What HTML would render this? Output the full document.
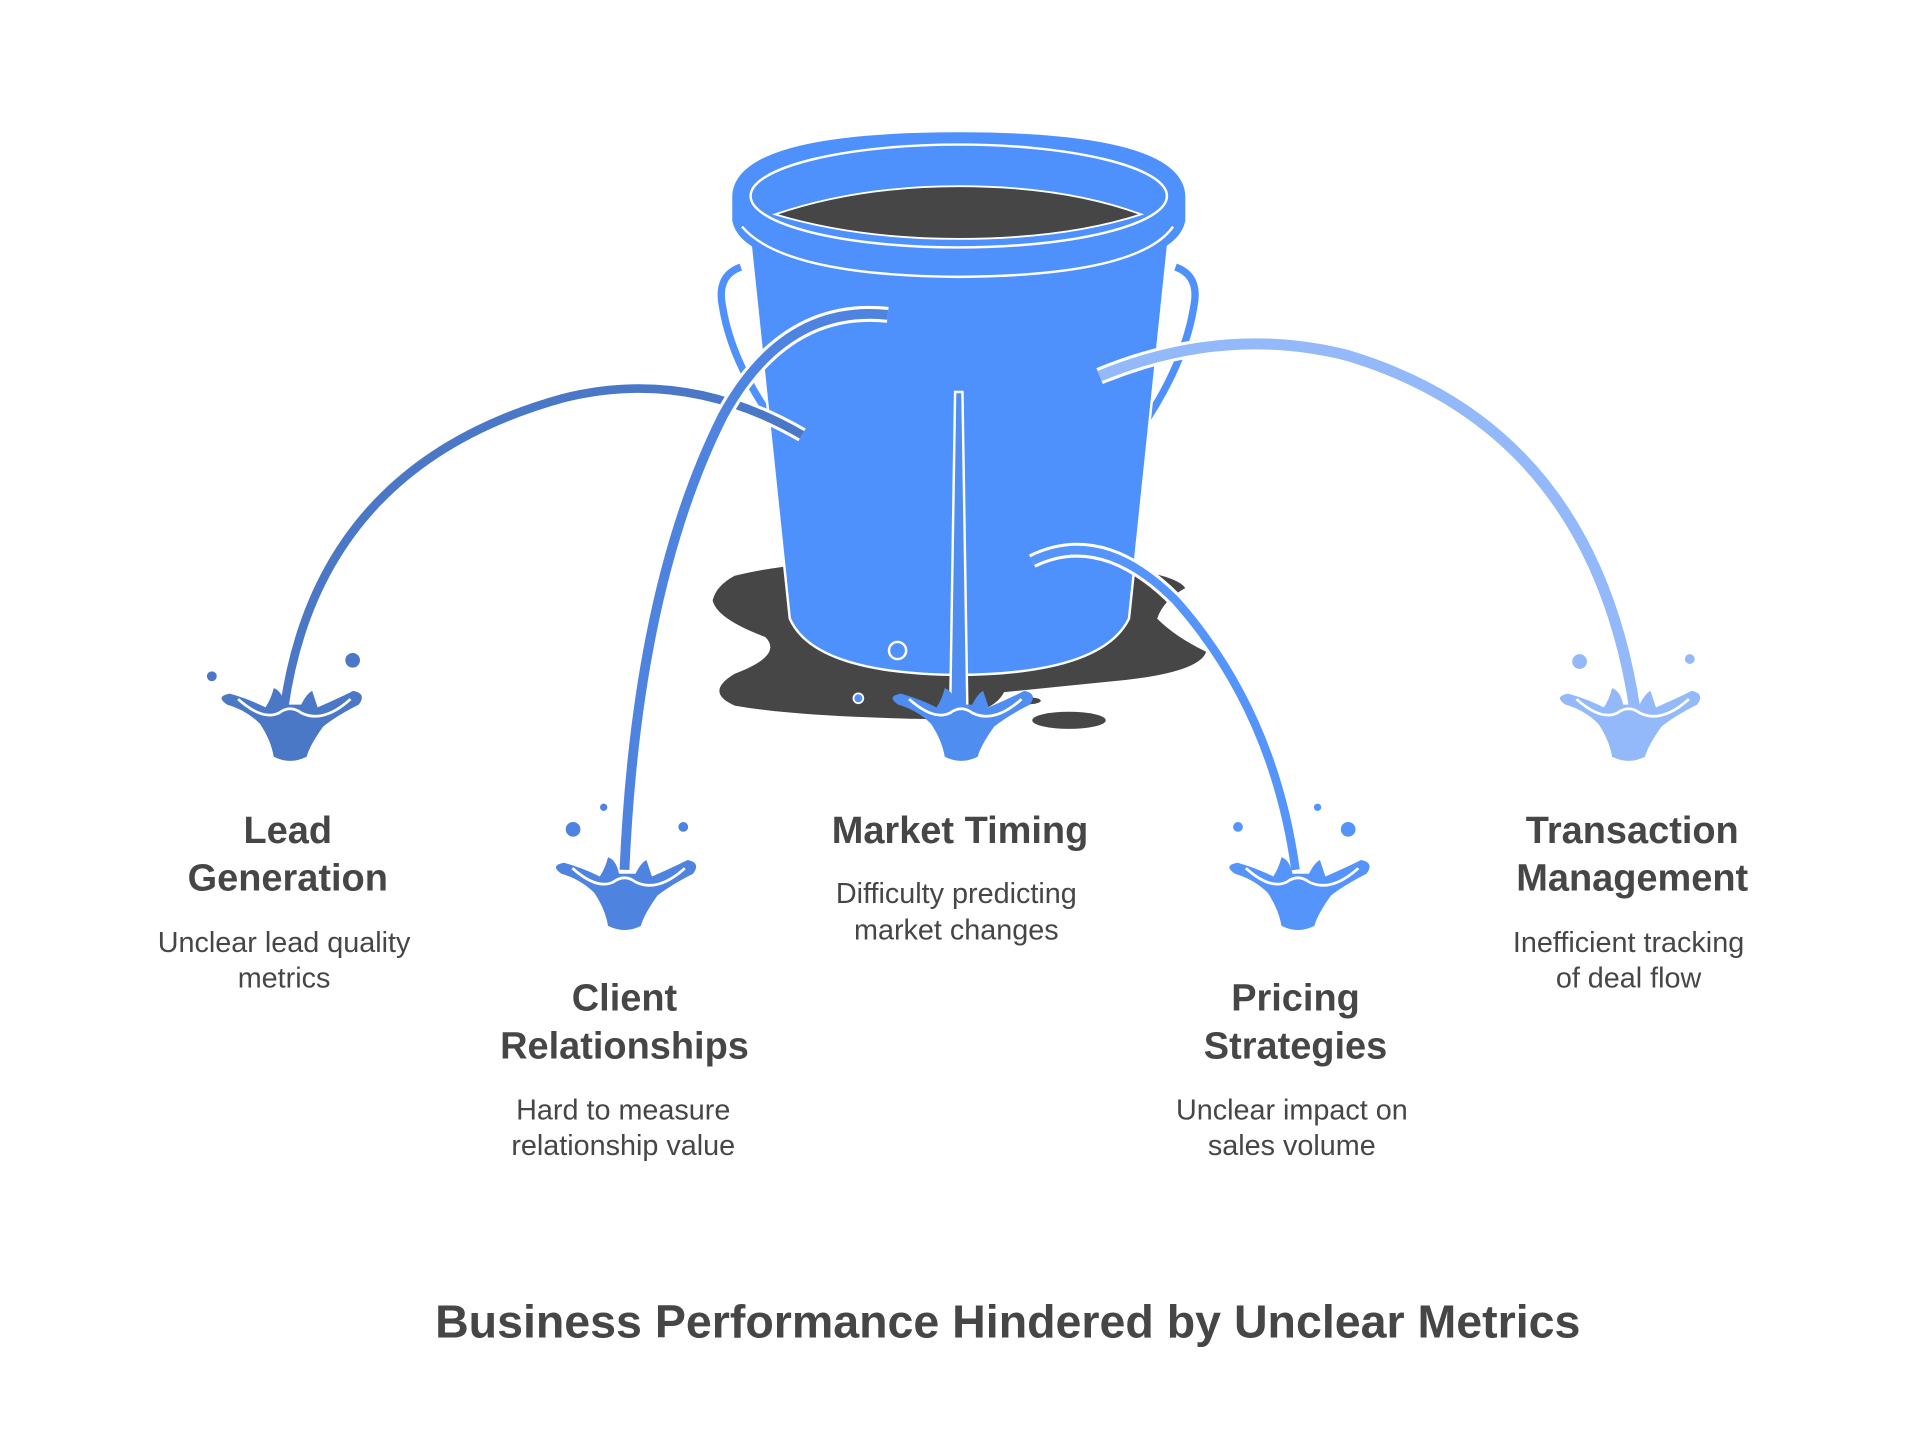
<!DOCTYPE html>
<html><head><meta charset="utf-8"><style>
html,body{margin:0;padding:0;background:#fff;}
svg{display:block;}
text{font-family:"Liberation Sans",sans-serif;fill:#464646;}
.h{font-weight:bold;font-size:31px;}
.d{font-size:23.5px;}
</style></head><body>
<svg width="1920" height="1448" viewBox="0 0 1568 1182" preserveAspectRatio="none" xmlns="http://www.w3.org/2000/svg">
<defs>
<g id="spl">
<path d="M-46,-40 Q-55,-46 -44,-48 Q-30,-44 -18,-38 Q-14,-44 -12,-52 Q-6,-50 -4,-40 L8,-40 Q12,-48 16,-50 Q18,-44 20,-38 Q34,-44 46,-50 Q56,-48 50,-40 Q34,-32 24,-24 Q14,-10 12,-2 Q0,4 -12,-2 Q-14,-14 -22,-26 Q-32,-36 -46,-40 Z"/>
<path d="M-38,-44 Q-20,-28 -8,-34 Q0,-40 8,-34 Q24,-26 44,-44" fill="none" stroke="#fff" stroke-width="2"/>
</g>
</defs>
<path d="M600,470 Q640,460 700,458 L900,462 Q960,468 968,480 Q950,490 945,505 Q960,520 985,532 Q980,548 920,555 Q870,560 820,565 Q810,585 760,587 Q650,585 600,576 Q575,565 600,550 Q640,535 625,520 Q585,505 582,490 Q585,478 600,470 Z" fill="#464646"/>
<ellipse cx="873" cy="588" rx="30" ry="7" fill="#464646"/>
<ellipse cx="838" cy="572" rx="12" ry="3" fill="#464646"/>
<path d="M605,218 Q585,225 590,250 Q598,300 640,355" fill="none" stroke="#4f91fc" stroke-width="6"/>
<path d="M960,218 Q980,225 975,250 Q967,300 928,355" fill="none" stroke="#4f91fc" stroke-width="6"/>
<path d="M612,190 L955,190 L922,505 Q900,550 783,551 Q665,550 645,505 Z" fill="#4f91fc" stroke="#fff" stroke-width="2"/>
<path d="M598,160 Q600,108 783,108 Q966,108 968,160 L968,180 Q960,226 783,227 Q606,226 598,180 Z" fill="#4f91fc"/>
<path d="M606,185 Q640,225 783,226 Q930,225 958,185" fill="none" stroke="#fff" stroke-width="2"/>
<ellipse cx="783" cy="160" rx="170" ry="42" fill="none" stroke="#fff" stroke-width="2"/>
<path d="M633,175 Q700,152 783,152 Q870,152 932,175 Q870,195 783,195 Q700,195 633,175 Z" fill="#464646" stroke="#fff" stroke-width="1.5"/>
<circle cx="733" cy="531" r="7" fill="none" stroke="#fff" stroke-width="2"/>
<circle cx="701" cy="570" r="4" fill="#4f91fc" stroke="#fff" stroke-width="1.5"/>
<path d="M655,355 Q560,300 460,325 Q260,380 232,578" fill="none" stroke="#fff" stroke-width="12"/>
<path d="M655,355 Q560,300 460,325 Q260,380 232,578" fill="none" stroke="#4a78c6" stroke-width="7"/>
<path d="M725,257 Q640,248 590,340 Q520,480 510,710" fill="none" stroke="#fff" stroke-width="13"/>
<path d="M725,257 Q640,248 590,340 Q520,480 510,710" fill="none" stroke="#4f83e0" stroke-width="8"/>
<path d="M780,320 L786,320 L790,578 L776,578 Z" fill="#4f8df0" stroke="#fff" stroke-width="2"/>
<path d="M843,458 Q900,430 960,490 Q1040,580 1058,710" fill="none" stroke="#fff" stroke-width="12"/>
<path d="M843,458 Q900,430 960,490 Q1040,580 1058,710" fill="none" stroke="#5594fb" stroke-width="7"/>
<path d="M898,307 Q1000,265 1100,290 Q1300,350 1335,578" fill="none" stroke="#fff" stroke-width="14"/>
<path d="M898,307 Q1000,265 1100,290 Q1300,350 1335,578" fill="none" stroke="#93b9fa" stroke-width="9"/>
<g fill="#4a78c6"><use href="#spl" transform="translate(237,620) scale(1.12)"/><circle cx="173" cy="552" r="4"/><circle cx="288" cy="539" r="6"/></g>
<g fill="#4f83e0"><use href="#spl" transform="translate(510,758) scale(1.12)"/><circle cx="468" cy="677" r="6"/><circle cx="493" cy="659" r="3"/><circle cx="558" cy="675" r="4"/></g>
<g fill="#4f8df0"><use href="#spl" transform="translate(785,620) scale(1.12)"/></g>
<g fill="#5594fb"><use href="#spl" transform="translate(1060,758) scale(1.12)"/><circle cx="1011" cy="675" r="4"/><circle cx="1076" cy="659" r="3"/><circle cx="1101" cy="677" r="6"/></g>
<g fill="#93b9fa"><use href="#spl" transform="translate(1330,620) scale(1.12)"/><circle cx="1290" cy="540" r="6"/><circle cx="1380" cy="538" r="4"/></g>
<g text-anchor="middle">
<text class="h" x="235" y="688">Lead</text><text class="h" x="235" y="727">Generation</text>
<text class="d" x="232" y="777">Unclear lead quality</text><text class="d" x="232" y="806">metrics</text>
<text class="h" x="510" y="825">Client</text><text class="h" x="510" y="864">Relationships</text>
<text class="d" x="509" y="914">Hard to measure</text><text class="d" x="509" y="943">relationship value</text>
<text class="h" x="784" y="688">Market Timing</text>
<text class="d" x="781" y="737">Difficulty predicting</text><text class="d" x="781" y="767">market changes</text>
<text class="h" x="1058" y="825">Pricing</text><text class="h" x="1058" y="864">Strategies</text>
<text class="d" x="1055" y="914">Unclear impact on</text><text class="d" x="1055" y="943">sales volume</text>
<text class="h" x="1333" y="688">Transaction</text><text class="h" x="1333" y="727">Management</text>
<text class="d" x="1330" y="777">Inefficient tracking</text><text class="d" x="1330" y="806">of deal flow</text>
<text x="823" y="1092" style="font-weight:bold;font-size:38px">Business Performance Hindered by Unclear Metrics</text>
</g>
</svg>
</body></html>
